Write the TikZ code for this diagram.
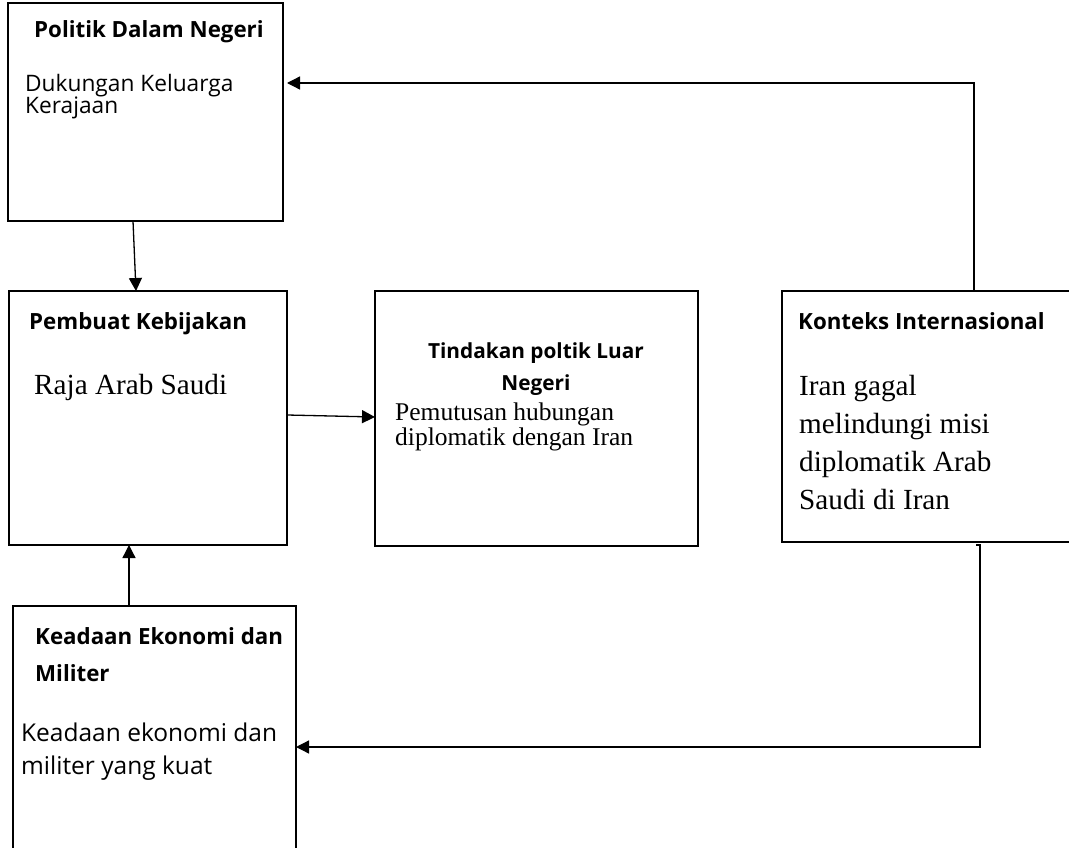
\documentclass[tikz,border=0pt]{standalone}
\usepackage{fontspec}
\setmainfont{Open Sans}
\newfontfamily\serifx{Liberation Serif}
\usetikzlibrary{arrows.meta}
\begin{document}
\begin{tikzpicture}[x=1pt,y=-1pt,
  box/.style={draw,line width=1.6pt,rectangle,anchor=north west,inner sep=0,outer sep=0},
  arr/.style={line width=1.3pt,-{Triangle[length=13pt,width=13pt]}},
  head/.style={anchor=base west,inner sep=0,font=\fontsize{22.3}{24}\selectfont\bfseries},
  headc/.style={anchor=base,inner sep=0,font=\fontsize{20.8}{24}\selectfont\bfseries},
  body/.style={anchor=base west,inner sep=0,font=\fontsize{22.7}{24}\selectfont},
  bodyl/.style={anchor=base west,inner sep=0,font=\fontsize{24.5}{26}\selectfont},
  ser/.style={anchor=base west,inner sep=0,font=\serifx\fontsize{29.2}{32}\selectfont},
  sers/.style={anchor=base west,inner sep=0,font=\serifx\fontsize{25.5}{28}\selectfont}]
\useasboundingbox (0,0) rectangle (1069,848);
\fill[white] (0,0) rectangle (1069,848);
% boxes
\node[box,minimum width=275pt,minimum height=218pt] (b1) at (8,3) {};
\node[box,minimum width=278pt,minimum height=254pt] (b2) at (9,291) {};
\node[box,minimum width=323pt,minimum height=255pt] (b3) at (375,291) {};
\node[box,minimum width=290pt,minimum height=251pt] (b4) at (782,291) {};
\node[box,minimum width=283pt,minimum height=250pt] (b5) at (13,606) {};
% texts
\node[head] (t1) at (34,38) {Politik Dalam Negeri};
\node[body] (t1a) at (25,92) {Dukungan Keluarga};
\node[body] (t1b) at (25,114) {Kerajaan};
\node[head] (t2) at (29,329) {Pembuat Kebijakan};
\node[ser] (t2a) at (34,394) {Raja Arab Saudi};
\node[headc] (t3) at (536,358) {Tindakan poltik Luar};
\node[headc] (t3b) at (536,390) {Negeri};
\node[sers] (t3c) at (395,420) {Pemutusan hubungan};
\node[sers] (t3d) at (395,445) {diplomatik dengan Iran};
\node[head] (t4) at (798,329) {Konteks Internasional};
\node[ser] (t4a) at (799,395) {Iran gagal};
\node[ser] (t4b) at (799,433) {melindungi misi};
\node[ser] (t4c) at (799,471) {diplomatik Arab};
\node[ser] (t4d) at (799,509) {Saudi di Iran};
\node[head] (t5) at (35,644) {Keadaan Ekonomi dan};
\node[head] (t5b) at (35,681) {Militer};
\node[bodyl] (t5c) at (21,741) {Keadaan ekonomi dan};
\node[bodyl] (t5d) at (21,774) {militer yang kuat};
% connectors
\draw[arr] ([xshift=-12.5pt]b1.south) -- ([xshift=-12pt]b2.north);
\draw[arr] ([xshift=-25.5pt]b5.north) -- ([xshift=-19pt]b2.south);
\draw[arr] ([yshift=3pt]b2.east) -- ([yshift=1.5pt]b3.west);
\draw[arr] ([xshift=47pt]b4.north) |- ([xshift=4pt,yshift=29pt]b1.east);
\draw[arr] ([xshift=49pt,yshift=-3pt]b4.south) -- ++(4,0) |- ([yshift=-16pt]b5.east);
\end{tikzpicture}
\end{document}
